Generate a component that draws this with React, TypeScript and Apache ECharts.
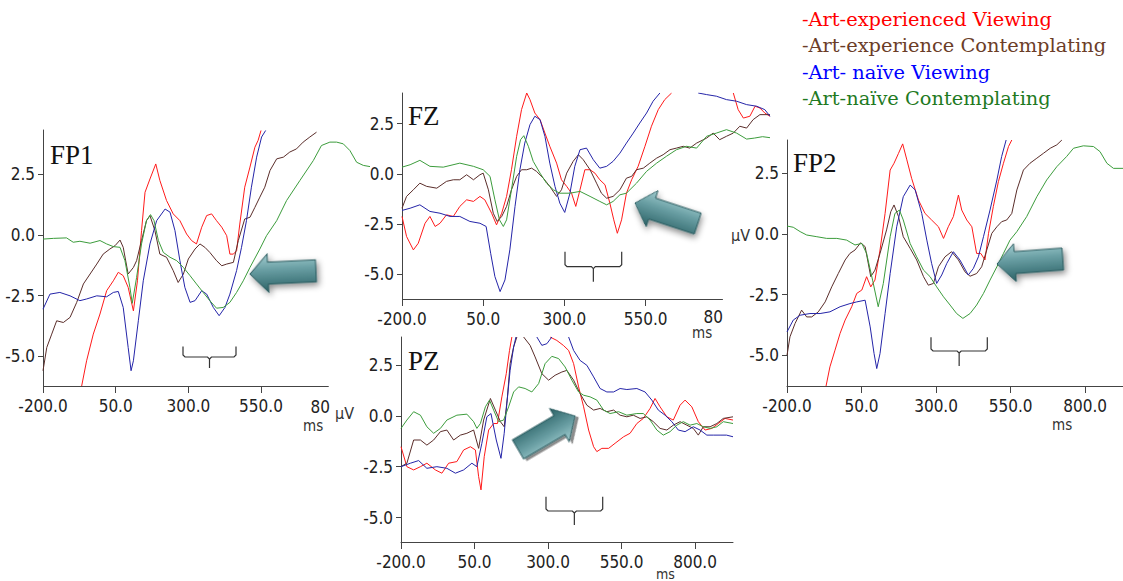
import React, { useEffect, useRef } from "react";
import * as echarts from "echarts";

// ---------- data: [time (ms), amplitude (µV)] ; null = trace leaves the plot ----------
const FP1_EXP_VIEW = [[-67,-6.23],[-50,-5.19],[-27,-4.09],[-4,-3.26],[19,-2.3],[42,-1.89],[59,-1.54],[76,-1.68],[93,-2.16],[111,-3.13],[125,-1.89],[139,0.18],[151,1.76],[168,2.31],[188,2.93],[202,2.25],[225,1.42],[248,0.87],[271,0.59],[294,0.04],[311,-0.23],[328,-0.37],[346,0.32],[363,0.8],[380,0.87],[397,0.59],[415,0.32],[432,-0.03],[443,-0.79],[455,-0.79],[466,-0.65],[477,0.45],[494,1.97],[512,2.8],[529,3.62],[540,3.9],[550,4.31]];
const FP1_EXP_CONT = [[-200,-5.6],[-187,-4.64],[-170,-4.09],[-153,-3.54],[-130,-3.61],[-107,-3.4],[-84,-2.78],[-61,-2.02],[-38,-1.61],[-15,-1.2],[7,-0.79],[30,-0.58],[48,-0.44],[65,-0.21],[76,-0.51],[93,-1.61],[111,-1.34],[122,-1.06],[139,-0.23],[156,0.59],[168,0.8],[185,0.18],[202,-0.79],[225,-0.92],[248,-1.47],[265,-1.96],[283,-1.61],[300,-0.99],[323,-0.58],[340,-0.37],[357,-0.51],[374,-0.72],[397,-1.06],[415,-1.27],[432,-1.2],[455,-1.13],[472,-0.23],[494,0.66],[512,0.73],[529,1.14],[546,1.56],[563,1.97],[581,2.66],[604,3.14],[627,3.21],[649,3.42],[672,3.55],[695,3.83],[718,4.04],[741,4.24]];
const FP1_NAIVE_VIEW = [[-200,-3.06],[-176,-2.44],[-142,-2.37],[-107,-2.51],[-73,-2.71],[-50,-2.64],[-15,-2.51],[19,-2.55],[42,-2.37],[59,-2.33],[76,-2.99],[93,-4.64],[103,-5.6],[111,-5.19],[128,-3.54],[145,-1.89],[168,-0.37],[191,0.59],[220,1.07],[237,0.94],[254,0.18],[271,-1.06],[288,-2.16],[306,-2.78],[323,-2.71],[346,-2.3],[363,-2.44],[386,-2.99],[406,-3.33],[426,-2.99],[443,-2.44],[466,-1.47],[483,-0.51],[500,0.59],[517,1.97],[535,3.21],[552,4.04],[566,4.31]];
const FP1_NAIVE_CONT = [[-200,-0.17],[-164,-0.14],[-119,-0.12],[-96,-0.3],[-73,-0.26],[-38,-0.34],[-4,-0.23],[19,-0.37],[42,-0.48],[65,-0.51],[82,-1.06],[99,-2.16],[107,-2.82],[122,-1.75],[139,-0.37],[156,0.59],[170,0.84],[182,0.59],[197,-0.23],[214,-0.72],[237,-0.92],[260,-1.06],[283,-1.34],[306,-1.68],[328,-2.02],[351,-2.37],[374,-2.71],[397,-3.02],[420,-2.99],[443,-2.78],[466,-2.37],[489,-1.89],[512,-1.34],[546,-0.58],[569,-0.03],[604,0.59],[638,1.42],[684,2.25],[730,3.07],[758,3.69],[787,3.83],[810,3.83],[833,3.76],[856,3.48],[879,3.0],[902,2.87],[925,2.82]];

const FZ_EXP_VIEW = [[-200,-2.13],[-186,-3.13],[-165,-3.8],[-150,-3.47],[-129,-2.47],[-114,-2.13],[-98,-2.63],[-83,-2.47],[-63,-2.05],[-42,-2.13],[-22,-1.63],[-1,-1.3],[20,-1.38],[40,-1.13],[55,-1.3],[76,-1.97],[91,-2.55],[107,-1.97],[122,-1.13],[137,0.2],[153,1.87],[168,3.2],[184,4.03],[194,3.7],[209,3.03],[225,2.7],[240,2.03],[255,1.37],[276,0.53],[291,-0.3],[307,-0.63],[322,-0.97],[335,-1.63],[348,-0.8],[363,0.2],[379,0.2],[394,0.03],[409,-0.3],[425,-0.55],[440,-1.47],[452,-2.3],[463,-2.97],[476,-2.3],[491,-0.97],[507,-0.3],[527,0.37],[548,1.37],[568,2.37],[589,3.2],[609,3.7],[630,4.03],[700,null],[820,4.03],[835,3.2],[851,2.78],[871,2.87],[887,3.37],[902,3.28],[917,3.03],[933,2.87]];
const FZ_EXP_CONT = [[-200,-1.72],[-186,-1.13],[-165,-0.8],[-145,-0.47],[-124,-0.63],[-93,-0.72],[-63,-0.38],[-42,-0.3],[-22,-0.3],[-1,-0.05],[20,-0.3],[40,-0.05],[50,0.03],[66,-0.8],[81,-1.97],[93,-2.38],[107,-2.13],[122,-1.63],[137,-0.8],[153,-0.13],[168,0.2],[184,0.2],[199,0.28],[214,0.12],[235,-0.22],[255,-0.63],[276,-1.13],[291,-0.8],[307,0.03],[327,0.62],[343,0.95],[358,0.7],[379,0.2],[399,-0.47],[414,-0.97],[430,-1.22],[450,-1.13],[471,-0.8],[491,-0.22],[507,-0.13],[522,0.2],[543,0.28],[563,0.53],[584,0.78],[604,0.95],[625,1.2],[645,1.28],[666,1.37],[686,1.28],[707,1.53],[738,1.78],[758,2.03],[778,1.7],[799,1.87],[820,2.03],[840,2.37],[861,2.28],[881,2.7],[902,2.95],[933,2.95]];
const FZ_NAIVE_VIEW = [[-200,-1.83],[-175,-1.72],[-145,-1.55],[-114,-1.88],[-83,-1.97],[-52,-2.13],[-22,-2.13],[9,-2.38],[40,-2.47],[59,-2.63],[73,-3.97],[86,-5.13],[102,-5.88],[117,-5.3],[132,-3.8],[148,-1.63],[163,0.2],[178,1.53],[194,2.45],[209,2.87],[225,2.7],[240,1.87],[255,0.53],[271,-0.63],[286,-1.47],[301,-1.93],[317,-0.97],[332,0.37],[348,1.2],[368,1.28],[389,0.7],[409,0.28],[430,0.37],[450,0.62],[471,1.03],[491,1.53],[512,2.03],[532,2.53],[553,3.03],[573,3.62],[594,4.03],[650,null],[712,4.03],[738,3.95],[768,3.87],[799,3.7],[830,3.62],[861,3.45],[892,3.37],[917,3.2],[933,2.87]];
const FZ_NAIVE_CONT = [[-200,0.33],[-175,0.45],[-145,0.67],[-114,0.37],[-73,0.33],[-22,0.53],[20,0.37],[50,0.2],[71,-0.13],[86,-1.3],[100,-2.3],[112,-2.63],[122,-2.3],[137,-0.8],[153,0.87],[165,1.7],[175,1.9],[189,1.37],[204,0.62],[225,0.03],[245,-0.47],[266,-0.8],[286,-0.97],[317,-0.97],[348,-0.88],[379,-1.13],[409,-1.38],[430,-1.55],[450,-1.38],[471,-1.05],[491,-0.97],[522,-0.47],[553,0.12],[584,0.53],[614,0.87],[645,1.2],[676,1.37],[707,1.28],[738,1.87],[768,2.03],[799,2.2],[830,2.03],[861,1.73],[885,1.78],[910,1.85],[933,1.8]];

const PZ_EXP_VIEW = [[-200,-1.52],[-180,-2.5],[-157,-2.66],[-134,-2.5],[-112,-2.33],[-83,-2.66],[-61,-2.82],[-38,-2.33],[-10,-2.25],[13,-1.68],[36,-1.52],[53,-1.68],[64,-2.99],[72,-3.64],[83,-2.01],[98,-0.7],[115,-0.38],[128,-0.38],[143,0.93],[158,2.07],[169,3.21],[177,3.87],[240,null],[307,3.87],[330,3.7],[352,3.46],[370,3.21],[387,2.56],[404,1.42],[421,0.44],[438,-0.7],[455,-1.52],[466,-1.76],[483,-1.6],[506,-1.6],[528,-1.35],[557,-1.03],[579,-0.86],[602,-0.38],[624,-0.13],[647,0.36],[664,0.85],[681,0.44],[704,-0.05],[726,-0.21],[749,0.52],[766,0.77],[789,0.44],[811,-0.29],[834,-0.7],[857,-0.62],[879,-0.38],[902,-0.13],[929,-0.21]];
const PZ_EXP_CONT = [[-200,-2.5],[-180,-2.33],[-157,-1.19],[-134,-1.19],[-112,-1.44],[-89,-1.19],[-66,-0.78],[-44,-0.7],[-21,-1.19],[2,-0.95],[24,-0.86],[47,-0.7],[64,-1.6],[81,-0.21],[104,0.85],[121,0.28],[138,-0.29],[151,-0.54],[162,0.93],[171,2.56],[183,3.38],[194,3.87],[205,null],[217,3.87],[239,3.46],[256,2.89],[279,2.07],[302,1.75],[324,1.99],[347,2.15],[364,2.23],[387,1.75],[409,1.09],[432,0.52],[455,0.28],[477,0.36],[500,0.2],[523,0.28],[545,0.03],[568,-0.05],[590,0.03],[613,-0.13],[636,-0.05],[658,-0.29],[681,-0.62],[704,-0.7],[726,-0.46],[749,-0.29],[772,-0.46],[794,-0.62],[811,-0.95],[828,-0.54],[851,-0.54],[874,-0.38],[896,-0.13],[929,-0.05]];
const PZ_NAIVE_VIEW = [[-200,-2.5],[-168,-2.33],[-140,-2.2],[-112,-2.58],[-78,-2.5],[-44,-2.58],[-15,-2.82],[13,-2.66],[41,-2.33],[58,-2.5],[75,-1.35],[92,-0.05],[106,0.11],[124,-1.19],[140,-2.09],[151,-0.86],[160,0.6],[171,2.23],[183,3.38],[191,3.87],[230,null],[262,3.87],[279,3.46],[296,3.54],[313,3.87],[340,null],[370,3.87],[387,3.21],[409,2.72],[432,2.48],[455,1.91],[477,1.34],[500,1.17],[523,1.17],[545,1.34],[568,1.29],[602,1.34],[630,1.17],[653,0.77],[675,0.28],[698,0.03],[721,-0.29],[743,-0.7],[766,-0.78],[794,-0.54],[817,-0.7],[840,-0.95],[862,-0.95],[885,-0.95],[907,-0.95],[929,-1.03]];
const PZ_NAIVE_CONT = [[-200,-0.62],[-180,-0.21],[-157,0.2],[-134,0.03],[-112,-0.54],[-89,-0.86],[-66,-0.62],[-44,-0.21],[-10,0.03],[24,0.08],[47,-0.29],[58,-0.62],[70,-0.38],[87,0.44],[101,0.77],[115,0.28],[132,-0.29],[149,-0.21],[166,0.44],[183,1.17],[200,1.42],[222,1.34],[245,1.17],[268,1.58],[290,2.56],[313,2.92],[336,2.81],[358,2.4],[381,1.75],[404,1.17],[421,1.01],[443,0.93],[466,0.77],[489,0.28],[511,0.11],[540,0.2],[568,0.03],[602,0.11],[624,0.11],[647,-0.21],[670,-0.7],[692,-0.95],[715,-0.78],[738,-0.46],[760,-0.29],[783,-0.46],[806,-0.38],[828,-0.54],[851,-0.62],[874,-0.54],[896,-0.29],[929,-0.38]];

const FP2_EXP_VIEW = [[-69,-6.27],[-56,-5.48],[-39,-4.79],[-22,-4.1],[-5,-3.55],[17,-3.0],[34,-2.45],[51,-2.31],[67,-1.76],[81,-2.18],[95,-1.9],[112,-0.66],[129,0.85],[146,2.64],[159,2.92],[174,3.33],[188,3.72],[202,3.06],[218,2.3],[241,1.4],[263,0.85],[285,0.58],[308,0.3],[325,-0.18],[341,0.3],[358,0.72],[375,1.61],[386,0.99],[403,0.58],[420,0.3],[436,-0.8],[450,-0.8],[464,-1.07],[476,0.03],[492,1.13],[509,2.16],[526,2.92],[543,3.61],[554,3.88]];
const FP2_EXP_CONT = [[-200,-5.0],[-190,-4.24],[-173,-3.69],[-151,-3.14],[-134,-3.42],[-117,-3.42],[-95,-3.21],[-72,-2.8],[-50,-2.18],[-28,-1.63],[-5,-1.07],[11,-0.8],[28,-0.66],[47,-0.36],[62,-0.52],[81,-1.76],[95,-1.49],[112,-0.8],[134,0.17],[148,0.92],[159,1.2],[174,0.72],[190,-0.11],[213,-0.59],[235,-1.07],[258,-1.76],[274,-2.11],[291,-2.04],[308,-1.35],[330,-0.94],[352,-0.73],[375,-1.07],[397,-1.56],[414,-1.74],[436,-1.63],[453,-1.35],[470,-0.66],[487,0.03],[504,0.3],[520,0.51],[537,0.58],[554,0.85],[571,1.82],[593,2.64],[615,2.92],[638,3.13],[660,3.33],[683,3.54],[705,3.68],[722,3.88]];
const FP2_NAIVE_VIEW = [[-200,-4.04],[-179,-3.55],[-156,-3.35],[-123,-3.28],[-89,-3.28],[-56,-3.21],[-22,-3.0],[11,-2.87],[34,-2.8],[62,-2.73],[79,-3.83],[92,-4.93],[101,-5.55],[112,-4.93],[129,-3.28],[146,-1.63],[168,0.3],[190,1.54],[213,2.02],[230,1.82],[252,0.85],[269,-0.25],[285,-1.21],[302,-2.04],[319,-1.69],[336,-1.21],[358,-0.73],[380,-1.07],[408,-1.69],[425,-1.42],[442,-0.94],[459,-0.11],[481,0.99],[504,2.23],[520,3.2],[535,3.88]];
const FP2_NAIVE_CONT = [[-200,0.33],[-179,0.28],[-156,0.1],[-134,-0.04],[-100,-0.11],[-67,-0.18],[-33,-0.18],[0,-0.25],[28,-0.45],[51,-0.39],[67,-0.8],[87,-1.9],[106,-3.0],[123,-2.04],[146,-0.11],[162,0.85],[177,0.99],[190,0.58],[213,-0.39],[235,-0.94],[258,-1.49],[280,-1.76],[302,-2.18],[325,-2.59],[347,-2.93],[369,-3.28],[390,-3.48],[414,-3.28],[436,-2.93],[459,-2.45],[481,-1.9],[504,-1.35],[526,-0.8],[548,-0.25],[571,0.1],[604,0.72],[638,1.54],[671,2.23],[705,2.78],[738,3.2],[761,3.54],[794,3.64],[828,3.61],[850,3.4],[873,2.92],[895,2.71],[928,2.71]];

const PANEL_TITLES = ["FP1", "FZ", "PZ", "FP2"];
const CONDITIONS = [
  "-Art-experienced Viewing",
  "-Art-experience Contemplating",
  "-Art- naïve Viewing",
  "-Art-naïve Contemplating",
];
const PANEL_DATA = [
  [FP1_EXP_VIEW, FP1_EXP_CONT, FP1_NAIVE_VIEW, FP1_NAIVE_CONT],
  [FZ_EXP_VIEW, FZ_EXP_CONT, FZ_NAIVE_VIEW, FZ_NAIVE_CONT],
  [PZ_EXP_VIEW, PZ_EXP_CONT, PZ_NAIVE_VIEW, PZ_NAIVE_CONT],
  [FP2_EXP_VIEW, FP2_EXP_CONT, FP2_NAIVE_VIEW, FP2_NAIVE_CONT],
];
const X_TICKS_SHORT = [-200, 50, 300, 550];
const X_TICKS_LONG = [-200, 50, 300, 550, 800];
const Y_TICKS = [-5, -2.5, 0, 2.5];
// time (ms) where the drawn x-axis line stops (the traces run on past it)
const AXIS_END = [783, 788, null, null];

// ---------- layout & style ----------
const LAYOUT = [
  { grid: { left: 43, top: 130, width: 327, height: 256 }, xMax: 925, yMin: -6.23, yMax: 4.33, xTicks: X_TICKS_SHORT, title: [50, 155] },
  { grid: { left: 402, top: 93, width: 368, height: 206 }, xMax: 933, yMin: -6.25, yMax: 4.03, xTicks: X_TICKS_SHORT, title: [408, 116] },
  { grid: { left: 401, top: 337, width: 332, height: 205 }, xMax: 929, yMin: -6.2, yMax: 3.87, xTicks: X_TICKS_LONG, title: [408, 361] },
  { grid: { left: 787, top: 140, width: 336, height: 246 }, xMax: 927, yMin: -6.27, yMax: 3.88, xTicks: X_TICKS_LONG, title: [793, 163] },
];
const LINE_COLORS = ["#ff1a1a", "#5a2d2a", "#2424a8", "#3c9c3c"];
const LEGEND_COLORS = ["#ff0000", "#6b3d28", "#0000ff", "#1f7a1f"];
const AXIS_FONT = "'Liberation Sans Narrow', 'Arial Narrow', 'DejaVu Sans Condensed', 'Liberation Sans', sans-serif";
const AXIS_COLOR = "#444";
const LABEL_COLOR = "#222";

function arrow(x: number, y: number, rotation: number) {
  return {
    type: "polygon",
    x,
    y,
    rotation,
    z: 10,
    shape: { points: [[0, 0], [18, -19], [18, -11], [66, -11], [66, 11], [18, 11], [18, 19]] },
    style: {
      fill: new echarts.graphic.LinearGradient(0, 0, 0, 1, [
        { offset: 0, color: "#a2cdd0" },
        { offset: 0.4, color: "#6a9fa4" },
        { offset: 1, color: "#2b6266" },
      ]),
      stroke: "#2a5b5f",
      lineWidth: 1,
      shadowBlur: 6,
      shadowColor: "rgba(0,0,0,0.45)",
      shadowOffsetX: 2,
      shadowOffsetY: 3,
    },
  };
}

function brace(xl: number, xr: number, yTop: number, yH: number, yBot: number) {
  const xm = (xl + xr) / 2;
  const style = { stroke: "#333", lineWidth: 1.2, fill: null };
  return [
    { type: "polyline", shape: { points: [[xl, yTop], [xl, yH - 2], [xl + 2, yH], [xm - 2, yH], [xm, yH + 2], [xm, yBot]] }, style },
    { type: "polyline", shape: { points: [[xr, yTop], [xr, yH - 2], [xr - 2, yH], [xm + 2, yH], [xm, yH + 2]] }, style },
  ];
}

function text(x: number, y: number, t: string, font: string, fill: string, align = "left") {
  return { type: "text", x, y, z: 20, style: { text: t, font, fill, align, verticalAlign: "middle" } };
}

export default function App() {
  const ref = useRef<HTMLDivElement>(null);
  useEffect(() => {
    if (!ref.current) return;
    const chart = echarts.init(ref.current, undefined, { renderer: "svg" });

    const grid = LAYOUT.map((l) => ({ ...l.grid, containLabel: false }));
    const xAxis = LAYOUT.map((l, i) => ({
      type: "value",
      gridIndex: i,
      min: -200,
      max: l.xMax,
      axisLine: { show: AXIS_END[i] == null, onZero: false, lineStyle: { color: AXIS_COLOR, width: 1 } },
      axisTick: { show: true, length: 7, customValues: l.xTicks, lineStyle: { color: AXIS_COLOR } },
      axisLabel: {
        customValues: l.xTicks,
        formatter: (v: number) => v.toFixed(1),
        fontFamily: AXIS_FONT,
        fontSize: 17,
        color: LABEL_COLOR,
        margin: 11,
      },
      splitLine: { show: false },
    }));
    const yAxis = LAYOUT.map((l, i) => ({
      type: "value",
      gridIndex: i,
      min: l.yMin,
      max: l.yMax,
      axisLine: { show: true, onZero: false, lineStyle: { color: AXIS_COLOR, width: 1 } },
      axisTick: { show: true, length: 5, customValues: Y_TICKS, lineStyle: { color: AXIS_COLOR } },
      axisLabel: {
        customValues: Y_TICKS,
        formatter: (v: number) => v.toFixed(1),
        fontFamily: AXIS_FONT,
        fontSize: 17,
        color: LABEL_COLOR,
        margin: 8,
      },
      splitLine: { show: false },
    }));
    const series: any[] = [];
    PANEL_DATA.forEach((lines, p) => {
      lines.forEach((data, c) => {
        const s: any = {
          type: "line",
          name: PANEL_TITLES[p] + " " + CONDITIONS[c],
          xAxisIndex: p,
          yAxisIndex: p,
          data,
          showSymbol: false,
          symbol: "none",
          connectNulls: false,
          lineStyle: { color: LINE_COLORS[c], width: 1 },
          emphasis: { disabled: true },
        };
        const end = AXIS_END[p];
        if (c === 0 && end != null) {
          const y0 = LAYOUT[p].yMin;
          s.markLine = {
            silent: true,
            symbol: ["none", "none"],
            label: { show: false },
            lineStyle: { color: AXIS_COLOR, width: 1, type: "solid" },
            emphasis: { disabled: true },
            data: [[{ coord: [-200, y0] }, { coord: [end, y0] }]],
          };
        }
        series.push(s);
      });
    });

    const titleFont = "27px 'Liberation Serif', serif";
    const unitFont = "16px " + AXIS_FONT;
    const graphic: any[] = [
      ...LAYOUT.map((l, i) => text(l.title[0], l.title[1], PANEL_TITLES[i], titleFont, "#111")),
      ...CONDITIONS.map((c, i) => text(802, [19, 45.5, 72, 98][i], c, "19.4px 'DejaVu Serif', serif", LEGEND_COLORS[i])),
      text(330, 407, "80", "17px " + AXIS_FONT, LABEL_COLOR, "right"),
      text(723, 317, "80", "17px " + AXIS_FONT, LABEL_COLOR, "right"),
      text(335, 413, "µV", unitFont, "#333"),
      text(731, 235, "µV", unitFont, "#333"),
      text(303, 426, "ms", "15px " + AXIS_FONT, "#333"),
      text(692, 333, "ms", "15px " + AXIS_FONT, "#333"),
      text(656, 574, "ms", "14px " + AXIS_FONT, "#333"),
      text(1052, 425, "ms", "15px " + AXIS_FONT, "#333"),
      ...brace(183, 236, 346.5, 357, 368),
      ...brace(565, 621.7, 251.7, 266.7, 281.7),
      ...brace(546, 602.7, 496.7, 511, 525),
      ...brace(931, 987.3, 337.3, 351, 366),
      arrow(250, 274, 0.048),
      arrow(635, 203, -0.317),
      arrow(575, 416, -2.611),
      arrow(997, 264, 0.075),
    ];

    chart.setOption({
      animation: false,
      backgroundColor: "#ffffff",
      grid,
      xAxis,
      yAxis,
      series,
      graphic,
    });
    return () => chart.dispose();
  }, []);
  return <div ref={ref} style={{ position: "fixed", left: 0, top: 0, width: 1123, height: 581 }} />;
}
